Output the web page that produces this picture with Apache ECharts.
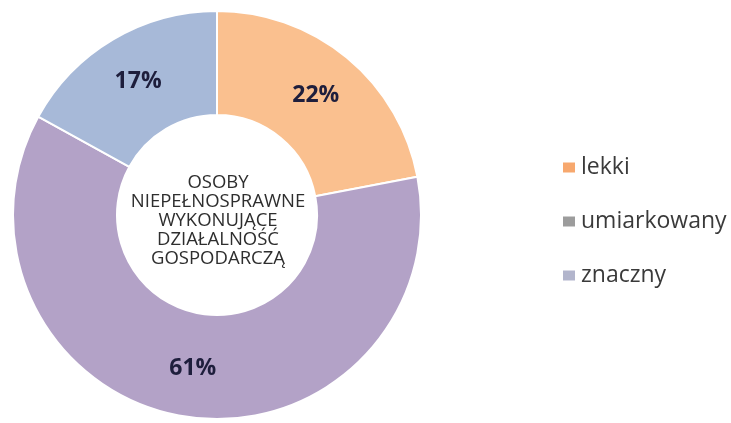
<!DOCTYPE html>
<html>
<head>
<meta charset="utf-8">
<script src="https://cdn.jsdelivr.net/npm/echarts@6/dist/echarts.min.js"></script>
<style>
  html, body { margin: 0; padding: 0; background: #fff; }
  #chart { width: 731px; height: 423px; }
</style>
</head>
<body>
<div id="chart"></div>
<script>
// degree of disability and share of people running a business
var categories = ['lekki', 'umiarkowany', 'znaczny'];
var values = [22, 61, 17];
var sliceColors = ['#FAC08F', '#B3A2C7', '#A7B9D8'];
var legendColors = ['#F7A86E', '#9C9C9C', '#B2B5CC'];
var centerText = 'OSOBY\nNIEPEŁNOSPRAWNE\nWYKONUJĄCE\nDZIAŁALNOŚĆ\nGOSPODARCZĄ';

var chart = echarts.init(document.getElementById('chart'));

chart.setOption({
  animation: false,
  color: sliceColors,
  legend: {
    orient: 'vertical',
    left: 556,
    top: 151,
    itemWidth: 14,
    itemHeight: 12,
    itemGap: 31,
    icon: 'rect',
    textStyle: {
      fontFamily: 'Open Sans',
      fontSize: 23,
      color: '#3A3A3A'
    },
    data: categories.map(function (name, i) {
      return { name: name, itemStyle: { color: legendColors[i] } };
    })
  },
  graphic: [{
    type: 'text',
    x: 218,
    y: 221,
    style: {
      text: centerText,
      textAlign: 'center',
      textVerticalAlign: 'middle',
      fontFamily: 'Open Sans',
      fontSize: 18.5,
      lineHeight: 19,
      fill: '#2E2E2E'
    }
  }],
  series: [{
    type: 'pie',
    center: [217, 215],
    radius: [100, 204],
    startAngle: 90,
    clockwise: true,
    avoidLabelOverlap: false,
    itemStyle: {
      borderColor: '#fff',
      borderWidth: 2
    },
    label: {
      show: true,
      position: 'inside',
      formatter: '{c}%',
      fontFamily: 'Open Sans',
      fontWeight: 'bold',
      fontSize: 23,
      color: '#1E1E3C'
    },
    labelLine: { show: false },
    emphasis: { disabled: true },
    data: categories.map(function (name, i) {
      return { name: name, value: values[i] };
    })
  }]
});
</script>
</body>
</html>
